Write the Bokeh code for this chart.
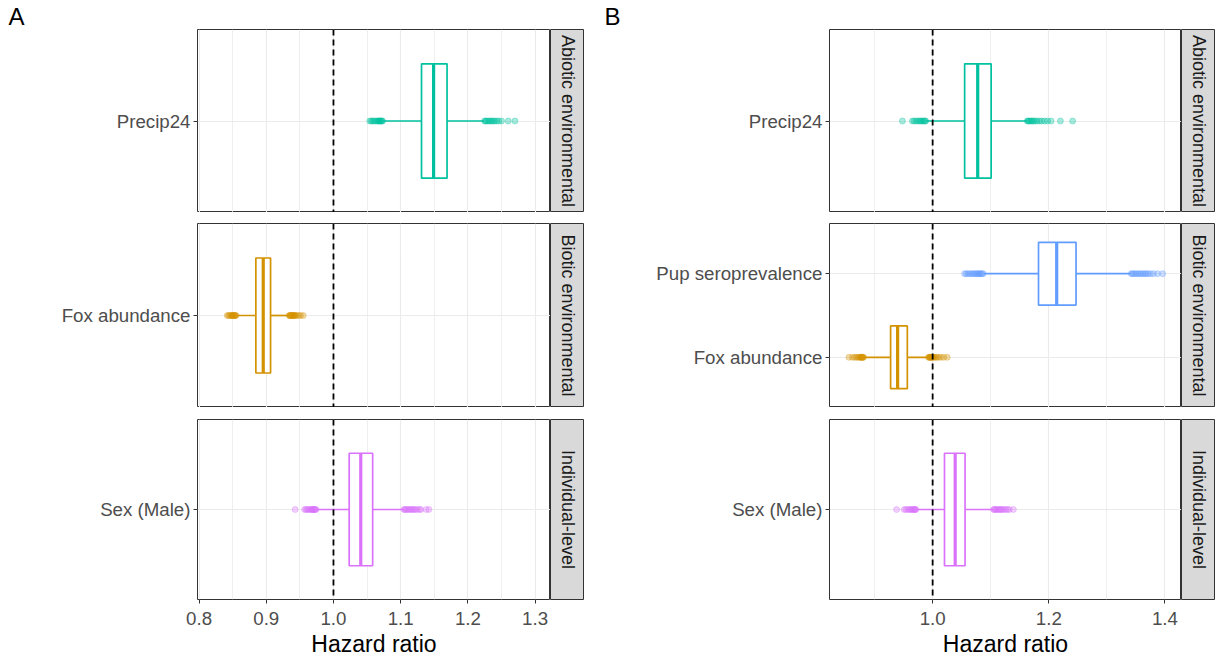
import math
from bokeh.plotting import figure
from bokeh.layouts import row, column
from bokeh.models import (Range1d, FactorRange, Span, FixedTicker,
                          PrintfTickFormatter, ColumnDataSource)
from bokeh.core.properties import value
from bokeh.embed import file_html
from bokeh.resources import INLINE

FONT = "Liberation Sans"

# ---------------- data ----------------
FACETS = ["Abiotic environmental", "Biotic environmental", "Individual-level"]
PANEL_TAGS = ["A", "B"]

COLORS = {"Precip24": "#00C19F", "Fox abundance": "#D39200",
          "Pup seroprevalence": "#619CFF", "Sex (Male)": "#DB72FB"}

# Panel A
A_VARS = ["Precip24", "Fox abundance", "Sex (Male)"]
A_FACET = ["Abiotic environmental", "Biotic environmental", "Individual-level"]
A_Q1 = [1.131, 0.8845, 1.0234]
A_MED = [1.149, 0.8955, 1.0406]
A_Q3 = [1.169, 0.9064, 1.0583]
A_WLO = [1.074, 0.856, 0.975]
A_WHI = [1.224, 0.9336, 1.105]
A_OUT = [
    [1.054, 1.056, 1.058, 1.060, 1.062, 1.064, 1.066, 1.067, 1.068, 1.069, 1.070, 1.071, 1.072, 1.073,
     1.225, 1.226, 1.228, 1.230, 1.232, 1.234, 1.236, 1.238, 1.240, 1.243, 1.246, 1.250, 1.260, 1.270],
    [0.842, 0.844, 0.846, 0.848, 0.849, 0.850, 0.851, 0.852, 0.853, 0.854, 0.855,
     0.934, 0.935, 0.936, 0.937, 0.938, 0.939, 0.940, 0.941, 0.942, 0.943, 0.945, 0.948, 0.951, 0.955],
    [0.943, 0.957, 0.959, 0.961, 0.963, 0.965, 0.967, 0.968, 0.969, 0.970, 0.971, 0.972, 0.973, 0.974,
     1.105, 1.106, 1.108, 1.110, 1.112, 1.114, 1.116, 1.118, 1.120, 1.122, 1.125, 1.128, 1.130, 1.138, 1.142],
]
A_TICKS = [0.8, 0.9, 1.0, 1.1, 1.2, 1.3]
A_MINOR = [0.85, 0.95, 1.05, 1.15, 1.25]
A_XLIM = (0.7977, 1.3229)

# Panel B
B_VARS = ["Precip24", "Pup seroprevalence", "Fox abundance", "Sex (Male)"]
B_FACET = ["Abiotic environmental", "Biotic environmental", "Biotic environmental", "Individual-level"]
B_Q1 = [1.0551, 1.1823, 0.9276, 1.0204]
B_MED = [1.0776, 1.2136, 0.9397, 1.0388]
B_Q3 = [1.1007, 1.2469, 0.9564, 1.0558]
B_WLO = [0.989, 1.0878, 0.8816, 0.972]
B_WHI = [1.1626, 1.3415, 0.993, 1.105]
B_OUT = [
    [0.948, 0.965, 0.968, 0.971, 0.974, 0.977, 0.979, 0.981, 0.983, 0.985, 0.987, 0.988,
     1.163, 1.164, 1.166, 1.168, 1.170, 1.172, 1.174, 1.177, 1.180, 1.184, 1.188, 1.193, 1.198, 1.204, 1.220, 1.241],
    [1.055, 1.058, 1.061, 1.064, 1.067, 1.070, 1.072, 1.075, 1.077, 1.079, 1.081, 1.083, 1.085, 1.087,
     1.342, 1.344, 1.347, 1.350, 1.353, 1.356, 1.359, 1.362, 1.365, 1.368, 1.371, 1.375, 1.380, 1.387, 1.396],
    [0.856, 0.862, 0.866, 0.869, 0.872, 0.874, 0.876, 0.877, 0.878, 0.879, 0.880, 0.881,
     0.993, 0.994, 0.995, 0.996, 0.997, 0.998, 0.999, 1.000, 1.002, 1.004, 1.007, 1.010, 1.014, 1.019, 1.025],
    [0.938, 0.951, 0.954, 0.957, 0.960, 0.962, 0.964, 0.966, 0.968, 0.969, 0.970, 0.971,
     1.105, 1.106, 1.108, 1.110, 1.112, 1.114, 1.116, 1.118, 1.120, 1.123, 1.126, 1.129, 1.132, 1.139],
]
B_TICKS = [1.0, 1.2, 1.4]
B_MINOR = [0.9, 1.1, 1.3]
B_XLIM = (0.8224, 1.4285)

REF_LINE = 1.0

# ---------------- layout constants ----------------
ROW_TOP = [29, 11, 12]
ROW_H = [183, 184, 183]
BOTTOM = 57
STRIP_W = 34
TICK_FS = "18.7px"
STRIP_FS = "18px"
GRID = "#EBEBEB"
DARK = "#333333"


def blank(width, height):
    f = figure(width=width, height=height, output_backend="svg", toolbar_location=None,
               tools="", x_axis_location=None, y_axis_location=None, min_border=0,
               x_range=Range1d(0, 1), y_range=Range1d(0, 1))
    f.outline_line_color = None
    f.grid.visible = False
    return f


def facet_fig(fi, vars_, facet, q1, med, q3, wlo, whi, outs, xlim, ticks, minor,
              left, frame_w, letter, letter_x):
    idx = [i for i, f in enumerate(facet) if f == FACETS[fi]]
    cats = [vars_[i] for i in idx][::-1]  # bottom to top
    last = fi == 2
    top = ROW_TOP[fi]
    fh = ROW_H[fi]
    bottom = BOTTOM if last else 0
    pad = 0.2 if len(cats) == 1 else 0.1
    p = figure(width=left + frame_w, height=top + fh + bottom,
               x_range=Range1d(*xlim), y_range=FactorRange(factors=cats, range_padding=pad),
               output_backend="svg", toolbar_location=None, tools="",
               min_border=0, min_border_left=left, min_border_top=top,
               min_border_bottom=bottom, min_border_right=0)
    if fi == 0:
        p.title.text = letter
        p.title.align = "left"
        p.title.offset = letter_x - left
        p.title.standoff = 0
        p.title.text_font = FONT
        p.title.text_font_size = "24px"
        p.title.text_font_style = "normal"
        p.title.text_color = "black"
        p.title.text_line_height = 0.9
    p.outline_line_color = DARK
    p.outline_line_width = 1
    p.background_fill_color = "white"
    p.border_fill_color = "white"

    p.xaxis.ticker = FixedTicker(ticks=ticks, minor_ticks=minor)
    p.xaxis.formatter = PrintfTickFormatter(format="%.1f")
    p.xgrid.grid_line_color = GRID
    p.xgrid.grid_line_width = 1.1
    p.xgrid.minor_grid_line_color = GRID
    p.xgrid.minor_grid_line_width = 0.8
    p.ygrid.grid_line_color = GRID
    p.ygrid.grid_line_width = 1.1

    for ax in (p.xaxis[0], p.yaxis[0]):
        ax.axis_line_color = None
        ax.major_tick_in = 0
        ax.major_tick_out = 4
        ax.major_tick_line_color = DARK
        ax.minor_tick_line_color = None
        ax.major_label_text_font = FONT
        ax.major_label_text_font_size = TICK_FS
        ax.major_label_text_color = "#4D4D4D"
        ax.major_label_standoff = 3
    if last:
        p.xaxis.major_label_standoff = 8
        p.xaxis.axis_label = "Hazard ratio"
        p.xaxis.axis_label_text_font = FONT
        p.xaxis.axis_label_text_font_size = "23px"
        p.xaxis.axis_label_text_font_style = "normal"
        p.xaxis.axis_label_text_color = "black"
        p.xaxis.axis_label_standoff = 3
    else:
        p.xaxis.visible = False

    sel = dict(
        y=[vars_[i] for i in idx], q1=[q1[i] for i in idx], med=[med[i] for i in idx],
        q3=[q3[i] for i in idx], wlo=[wlo[i] for i in idx], whi=[whi[i] for i in idx],
        color=[COLORS[vars_[i]] for i in idx])
    src = ColumnDataSource(sel)

    ox, oy, oc = [], [], []
    for i in idx:
        ox += outs[i]
        oy += [vars_[i]] * len(outs[i])
        oc += [COLORS[vars_[i]]] * len(outs[i])
    osrc = ColumnDataSource(dict(x=ox, y=oy, color=oc))

    p.add_layout(Span(location=REF_LINE, dimension="height", line_color="black",
                      line_dash="6 4", line_width=1.8))
    p.scatter("x", "y", source=osrc, size=6, fill_color="color", line_color="color",
              fill_alpha=0.33, line_alpha=0.33)
    p.segment(x0="wlo", y0="y", x1="q1", y1="y", source=src, line_color="color", line_width=1.7)
    p.segment(x0="q3", y0="y", x1="whi", y1="y", source=src, line_color="color", line_width=1.7)
    p.hbar(y="y", left="q1", right="q3", height=0.75, source=src, fill_color="white",
           line_color="color", line_width=1.7)
    p.hbar(y="y", left="med", right="med", height=0.75, source=src, fill_color=None,
           line_color="color", line_width=3.2)

    s = figure(width=STRIP_W, height=top + fh + bottom,
               x_range=Range1d(0, 1), y_range=Range1d(0, 1),
               output_backend="svg", toolbar_location=None, tools="",
               x_axis_location=None, y_axis_location=None,
               min_border=0, min_border_top=top, min_border_bottom=bottom,
               min_border_left=0, min_border_right=0)
    s.grid.visible = False
    s.background_fill_color = "#D9D9D9"
    s.border_fill_color = "white"
    s.outline_line_color = DARK
    s.outline_line_width = 1
    s.text(x=[0.5], y=[0.5], text=[FACETS[fi]], angle=-math.pi / 2,
           text_font=value(FONT), text_font_size=STRIP_FS, text_color="#1A1A1A",
           text_align="center", text_baseline="middle")
    return p, s


def panel_col(letter, letter_x, col_w, vars_, facet, q1, med, q3, wlo, whi, outs, xlim, ticks,
              minor, left, frame_w):
    rows = []
    right_pad = col_w - left - frame_w - STRIP_W
    for fi in range(3):
        p, s = facet_fig(fi, vars_, facet, q1, med, q3, wlo, whi, outs, xlim, ticks, minor,
                         left, frame_w, letter, letter_x)
        h = ROW_TOP[fi] + ROW_H[fi] + (BOTTOM if fi == 2 else 0)
        rows.append(row(p, s, blank(right_pad, h), spacing=0))
    return column(*rows, spacing=0)


colA = panel_col(PANEL_TAGS[0], 8, 600, A_VARS, A_FACET, A_Q1, A_MED, A_Q3, A_WLO, A_WHI, A_OUT,
                 A_XLIM, A_TICKS, A_MINOR, left=197, frame_w=353)
colB = panel_col(PANEL_TAGS[1], 4, 622, B_VARS, B_FACET, B_Q1, B_MED, B_Q3, B_WLO, B_WHI, B_OUT,
                 B_XLIM, B_TICKS, B_MINOR, left=229, frame_w=352)

root = row(colA, colB, spacing=0)

with open("out.html", "w") as f:
    f.write(file_html(root, INLINE))
